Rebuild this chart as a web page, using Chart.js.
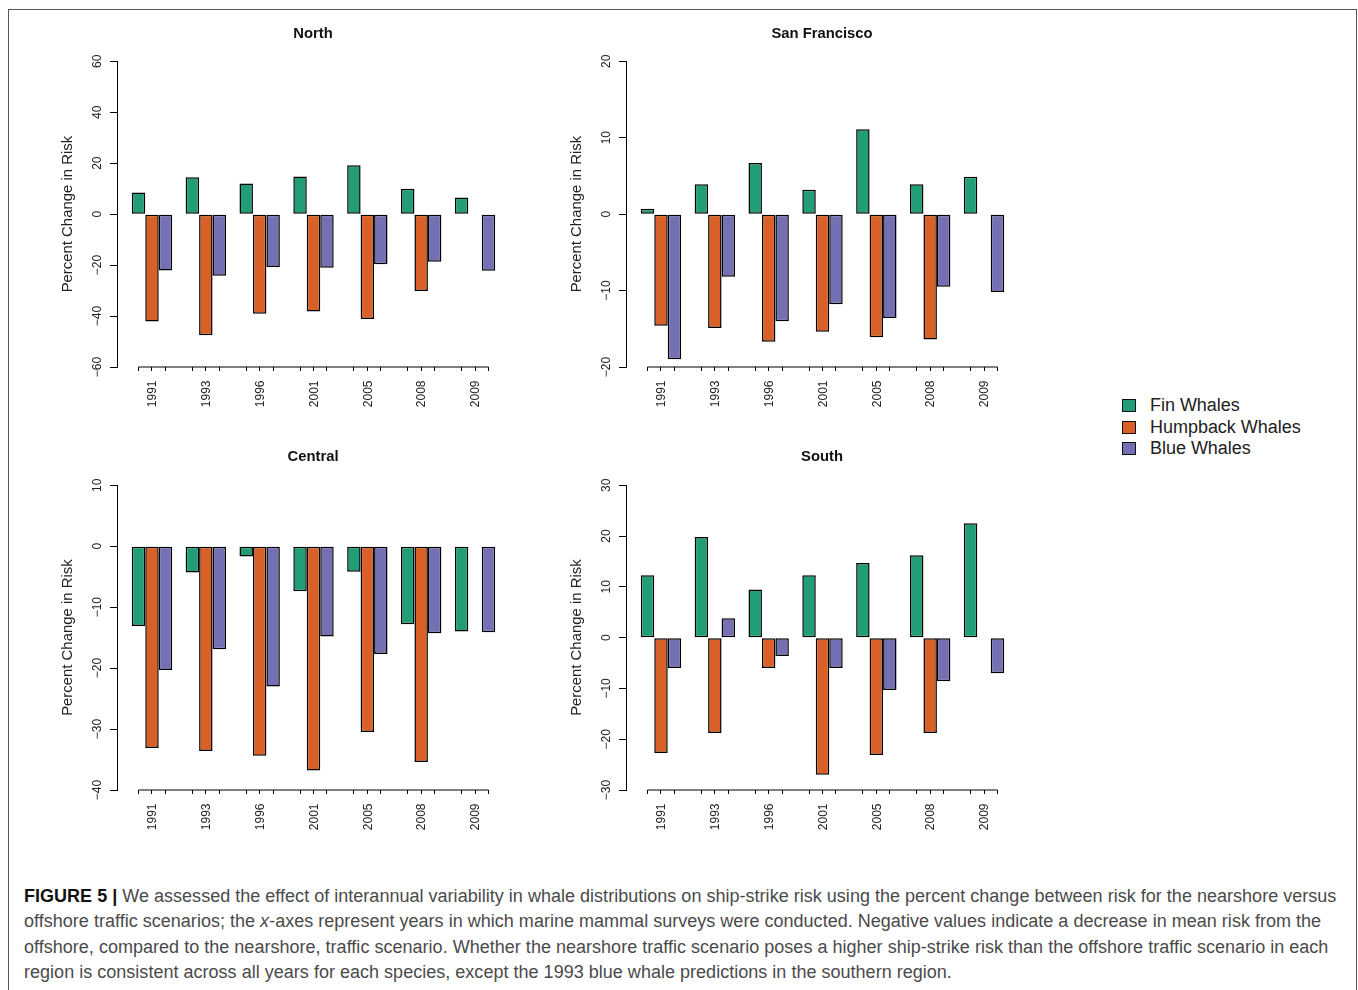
<!DOCTYPE html>
<html>
<head>
<meta charset="utf-8">
<script src="https://cdn.jsdelivr.net/npm/chart.js@4"></script>
<style>
  html, body { margin: 0; padding: 0; background: #fff; }
  body { width: 1358px; height: 990px; overflow: hidden; position: relative; font-family: "Liberation Sans", sans-serif; }
  #frame { position: absolute; left: 8px; top: 9px; width: 1347px; height: 1100px; border: 1px solid #555; }
  canvas { position: absolute; }
  #legend { position: absolute; left: 1122px; top: 395px; font-size: 18px; color: #222; }
  #legend div { height: 21.5px; line-height: 21.5px; white-space: nowrap; position: relative; padding-left: 28px; letter-spacing: -0.03px; }
  #legend i { position: absolute; left: 0; top: 4px; width: 12px; height: 11px; border: 1px solid #111; }
  #caption { position: absolute; left: 24px; top: 884px; font-size: 18px; line-height: 25.3px; color: #4a4a4a; white-space: nowrap; letter-spacing: 0.02px; }
  #caption b { color: #111; }
</style>
</head>
<body>
<div id="frame"></div>
<canvas id="north" width="506" height="410" style="left:60px;top:15px"></canvas>
<canvas id="sf" width="506" height="410" style="left:569px;top:15px"></canvas>
<canvas id="central" width="506" height="411" style="left:60px;top:437px"></canvas>
<canvas id="south" width="506" height="411" style="left:569px;top:437px"></canvas>
<div id="legend"></div>
<div id="caption">
<b>FIGURE 5 |</b> We assessed the effect of interannual variability in whale distributions on ship-strike risk using the percent change between risk for the nearshore versus<br>
offshore traffic scenarios; the <em>x</em>-axes represent years in which marine mammal surveys were conducted. Negative values indicate a decrease in mean risk from the<br>
offshore, compared to the nearshore, traffic scenario. Whether the nearshore traffic scenario poses a higher ship-strike risk than the offshore traffic scenario in each<br>
region is consistent across all years for each species, except the 1993 blue whale predictions in the southern region.
</div>
<script>
const years = ["1991", "1993", "1996", "2001", "2005", "2008", "2009"];
const speciesNames = ["Fin Whales", "Humpback Whales", "Blue Whales"];
const speciesColors = ["#219E77", "#D96127", "#7570B3"];

const northFin = [8.5, 14.5, 12, 14.8, 19.2, 10, 6.5];
const northHump = [-42.1, -47.5, -39.1, -38.2, -41.2, -30.2, null];
const northBlue = [-22.1, -24.2, -20.8, -21, -19.7, -18.7, -22.2];

const sfFin = [0.7, 3.9, 6.7, 3.2, 11.1, 3.9, 4.9];
const sfHump = [-14.6, -14.9, -16.7, -15.4, -16.1, -16.4, null];
const sfBlue = [-19, -8.2, -14, -11.8, -13.6, -9.5, -10.2];

const centralFin = [-13.1, -4.3, -1.7, -7.4, -4.2, -12.8, -14];
const centralHump = [-33.1, -33.6, -34.4, -36.8, -30.5, -35.4, null];
const centralBlue = [-20.3, -16.9, -23, -14.8, -17.7, -14.3, -14.1];

const southFin = [12.3, 19.8, 9.5, 12.3, 14.7, 16.2, 22.5];
const southHump = [-22.7, -18.8, -6, -27, -23.1, -18.8, null];
const southBlue = [-6, 3.8, -3.6, -6, -10.3, -8.6, -7];

// three ticks per year, one under each bar
const xTicks = [];
years.forEach((y, i) => xTicks.push(i + 0.75, i + 1, i + 1.25));

// the x axis line only runs from first to last tick, like in R
const xAxisLine = {
  id: "xAxisLine",
  afterDraw(chart) {
    const x = chart.scales.x;
    const ctx = chart.ctx;
    ctx.save();
    ctx.strokeStyle = "#000";
    ctx.lineWidth = 1;
    ctx.beginPath();
    ctx.moveTo(x.getPixelForValue(xTicks[0]), x.top);
    ctx.lineTo(x.getPixelForValue(xTicks[xTicks.length - 1]), x.top);
    ctx.stroke();
    ctx.restore();
  },
};

function makeChart(id, title, series, yMin, yMax, yStep, titlePad) {
  return new Chart(document.getElementById(id), {
    type: "bar",
    plugins: [xAxisLine],
    data: {
      datasets: series.map((values, s) => ({
        label: speciesNames[s],
        data: values.map((v, i) => ({ x: i + 1, y: v })),
        backgroundColor: speciesColors[s],
        borderColor: "#000",
        borderWidth: 1.5,
        borderSkipped: false,
        // bar sizing goes by the smallest tick gap, which is one bar wide here
        categoryPercentage: 3,
        barPercentage: 1,
      })),
    },
    options: {
      responsive: false,
      animation: false,
      layout: { autoPadding: false },
      plugins: {
        legend: { display: false },
        tooltip: { enabled: false },
        title: {
          display: true,
          text: title,
          color: "#111",
          font: { family: "Liberation Sans", size: 14.8, weight: "bold", lineHeight: 1.2 },
          padding: titlePad,
        },
      },
      scales: {
        x: {
          type: "linear",
          offset: false,
          min: 0.35,
          max: 8.69,
          grid: { offset: false, drawOnChartArea: false, color: "#000", tickLength: 4 },
          border: { display: false },
          afterBuildTicks(scale) {
            scale.ticks = xTicks.map((v) => ({ value: v }));
          },
          afterFit(scale) {
            scale.height = 58;
          },
          ticks: {
            autoSkip: false,
            minRotation: 90,
            maxRotation: 90,
            padding: 9.5,
            labelOffset: 1,
            color: "#222",
            font: { family: "Liberation Sans", size: 12 },
            callback: (v) => (Number.isInteger(v) ? years[v - 1] : ""),
          },
        },
        y: {
          min: yMin,
          max: yMax,
          grid: { drawOnChartArea: false, color: "#000", tickLength: 7 },
          border: { color: "#000" },
          afterFit(scale) {
            scale.width = 57;
          },
          title: {
            display: true,
            text: "Percent Change in Risk",
            color: "#222",
            font: { family: "Liberation Sans", size: 14.9, lineHeight: 1 },
            padding: 0,
          },
          ticks: {
            stepSize: yStep,
            minRotation: 90,
            maxRotation: 90,
            crossAlign: "center",
            padding: 1.8,
            color: "#222",
            font: { family: "Liberation Sans", size: 12 },
            callback: (v) => String(v).replace("-", "−"),
          },
        },
      },
    },
  });
}

const topRowPad = { top: 10, bottom: 18.5 };
const bottomRowPad = { top: 11, bottom: 19.5 };

makeChart("north", "North", [northFin, northHump, northBlue], -60, 60, 20, topRowPad);
makeChart("sf", "San Francisco", [sfFin, sfHump, sfBlue], -20, 20, 10, topRowPad);
makeChart("central", "Central", [centralFin, centralHump, centralBlue], -40, 10, 10, bottomRowPad);
makeChart("south", "South", [southFin, southHump, southBlue], -30, 30, 10, bottomRowPad);

const legend = document.getElementById("legend");
speciesNames.forEach((name, s) => {
  const row = document.createElement("div");
  const box = document.createElement("i");
  box.style.background = speciesColors[s];
  row.appendChild(box);
  row.appendChild(document.createTextNode(name));
  legend.appendChild(row);
});
</script>
</body>
</html>
